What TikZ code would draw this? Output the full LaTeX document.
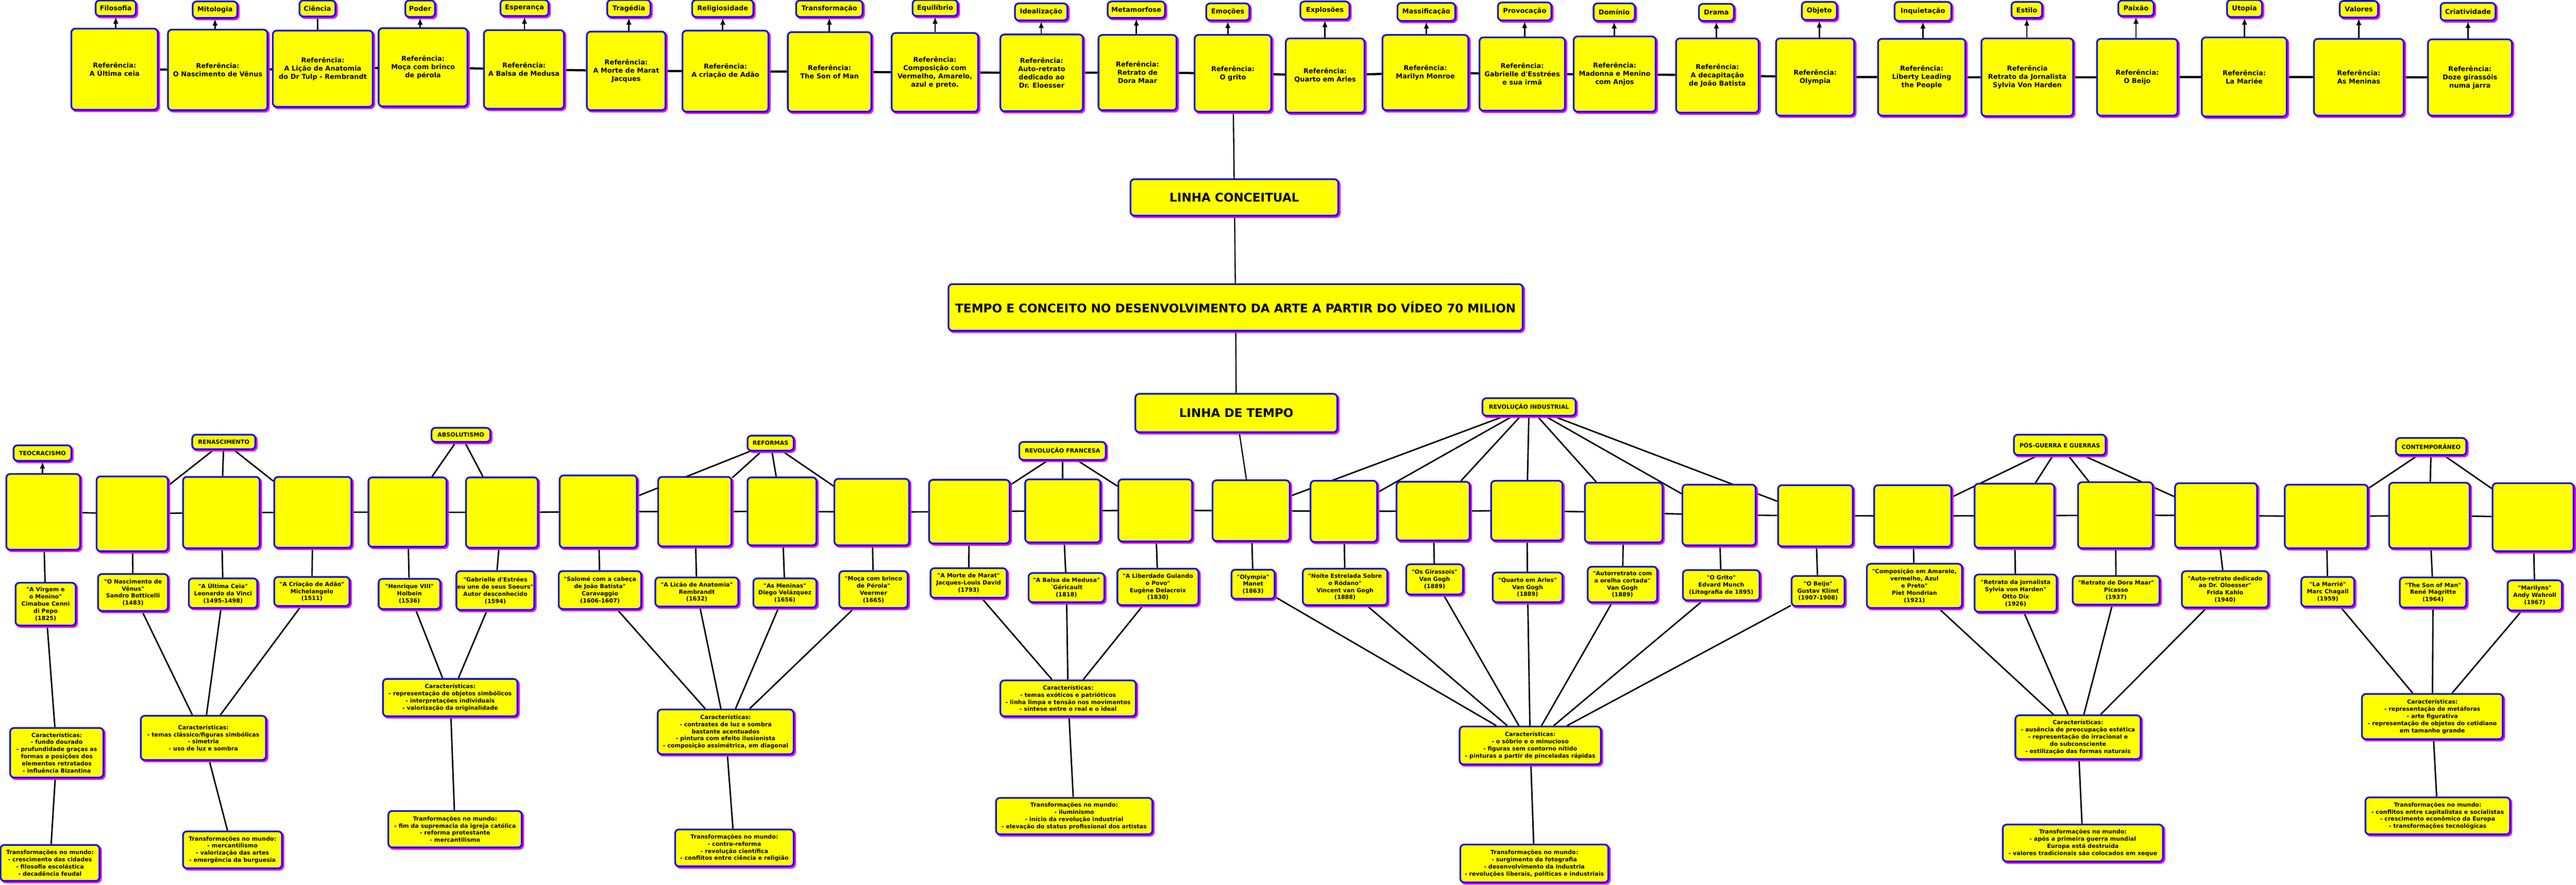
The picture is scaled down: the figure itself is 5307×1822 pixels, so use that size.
\documentclass[tikz,border=0pt]{standalone}
\usepackage{fontspec}
\setmainfont[Ligatures=TeXOff]{DejaVu Sans}
\usetikzlibrary{shadows,arrows.meta}
\definecolor{bxy}{RGB}{255,255,0}
\definecolor{bxb}{RGB}{10,10,245}
\definecolor{bxm}{RGB}{245,0,245}
\pgfdeclarelayer{bg}
\pgfsetlayers{bg,main}
\newcommand\mynode[7]{\node[#1, minimum width=#5pt, minimum height=#6pt] (#2) at (#3,#4) {#7};}
\tikzset{
 bx/.style={draw=bxb, line width=3.5pt, fill=bxy, rounded corners=8pt, align=center, inner sep=2pt, text=black,
   drop shadow={shadow xshift=3pt, shadow yshift=-3pt, fill=bxm, draw=bxm, line width=3.5pt, opacity=1}},
 topf/.style={bx, font=\bfseries\fontsize{13.8}{17}\selectfont},
 botf/.style={bx, font=\bfseries\fontsize{11.8}{14.7}\selectfont},
 bigf/.style={bx, font=\bfseries\fontsize{24.5}{29}\selectfont},
 arr/.style={line width=3pt, -{Latex[length=14pt,width=11pt]}},
 hline/.style={line width=4.5pt},
 cline/.style={line width=3pt},
 tline/.style={line width=2.5pt},
}
\begin{document}
\begin{tikzpicture}[x=1pt,y=-1pt]
\useasboundingbox (0,0) rectangle (5307,1822);
% ---------- top: references ----------
\mynode{topf}{R1}{236}{142.5}{178}{167}{Referência:\\A Última ceia}
\mynode{topf}{R2}{448.5}{144}{205}{166}{Referência:\\O Nascimento de Vênus}
\mynode{topf}{R3}{665}{141.5}{206}{157}{Referência:\\A Lição de Anatomia\\do Dr Tulp - Rembrandt}
\mynode{topf}{R4}{871.5}{138.5}{183}{161}{Referência:\\Moça com brinco\\de pérola}
\mynode{topf}{R5}{1079.5}{143}{165}{162}{Referência:\\A Balsa de Medusa}
\mynode{topf}{R6}{1290}{146}{162}{162}{Referência:\\A Morte de Marat\\Jacques}
\mynode{topf}{R7}{1494.5}{146.5}{177}{167}{Referência:\\A criação de Adão}
\mynode{topf}{R8}{1709}{148}{172}{164}{Referência:\\The Son of Man}
\mynode{topf}{R9}{1926}{149}{178}{162}{Referência:\\Composição com\\Vermelho, Amarelo,\\azul e preto.}
\mynode{topf}{R10}{2146}{150}{170}{158}{Referência:\\Auto-retrato\\dedicado ao\\Dr. Eloesser}
\mynode{topf}{R11}{2343.5}{149.5}{161}{155}{Referência:\\Retrato de\\Dora Maar}
\mynode{topf}{R12}{2540}{151}{158}{158}{Referência:\\O grito}
\mynode{topf}{R13}{2730}{155.5}{162}{153}{Referência:\\Quarto em Arles}
\mynode{topf}{R14}{2936.5}{149.5}{177}{155}{Referência:\\Marilyn Monroe}
\mynode{topf}{R15}{3136}{152.5}{176}{151}{Referência:\\Gabrielle d'Esstrées\\e sua irmã}
\mynode{topf}{R16}{3326.5}{152.5}{169}{155}{Referência:\\Madonna e Menino\\com Anjos}
\mynode{topf}{R17}{3538}{155.5}{170}{153}{Referência:\\A decapitação\\de João Batista}
\mynode{topf}{R18}{3739.5}{158.5}{161}{159}{Referência:\\Olympia}
\mynode{topf}{R19}{3959}{159}{180}{158}{Referência:\\Liberty Leading\\the People}
\mynode{topf}{R20}{4176.5}{159}{189}{160}{Referência\\Retrato da Jornalista\\Sylvia Von Harden}
\mynode{topf}{R21}{4403}{159}{166}{158}{Referência:\\O Beijo}
\mynode{topf}{R22}{4623.5}{158.5}{175}{163}{Referência:\\La Mariée}
\mynode{topf}{R23}{4859.5}{159}{185}{158}{Referência:\\As Meninas}
\mynode{topf}{R24}{5088.5}{159.5}{173}{157}{Referência:\\Doze girassóis\\numa jarra}
% ---------- top: concepts ----------
\mynode{topf}{L1}{238.5}{17}{83}{32}{Filosofia}
\mynode{topf}{L2}{443}{20}{92}{34}{Mitologia}
\mynode{topf}{L3}{654}{17.5}{74}{33}{Ciência}
\mynode{topf}{L4}{865.5}{18}{61}{34}{Poder}
\mynode{topf}{L5}{1080.5}{16.5}{99}{33}{Esperança}
\mynode{topf}{L6}{1295.5}{17.5}{89}{35}{Tragédia}
\mynode{topf}{L7}{1489}{17.5}{126}{35}{Religiosidade}
\mynode{topf}{L8}{1708.5}{18}{137}{34}{Transformação}
\mynode{topf}{L9}{1926.5}{16.5}{93}{33}{Equilíbrio}
\mynode{topf}{L10}{2145}{24.5}{108}{35}{Idealização}
\mynode{topf}{L11}{2341}{20}{118}{34}{Metamorfose}
\mynode{topf}{L12}{2529.5}{24.5}{89}{35}{Emoções}
\mynode{topf}{L13}{2729.5}{21.5}{101}{37}{Explosões}
\mynode{topf}{L14}{2938.5}{24.5}{119}{37}{Massificação}
\mynode{topf}{L15}{3141}{23.5}{110}{37}{Provocação}
\mynode{topf}{L16}{3325.5}{25}{85}{36}{Domínio}
\mynode{topf}{L17}{3536}{25.5}{72}{35}{Drama}
\mynode{topf}{L18}{3748}{22.5}{72}{37}{Objeto}
\mynode{topf}{L19}{3961.5}{23.5}{117}{39}{Inquietação}
\mynode{topf}{L20}{4175.5}{20.5}{63}{33}{Estilo}
\mynode{topf}{L21}{4400.5}{17}{73}{32}{Paixão}
\mynode{topf}{L22}{4624}{17.5}{72}{35}{Utopia}
\mynode{topf}{L23}{4859.5}{19}{79}{34}{Valores}
\mynode{topf}{L24}{5084.5}{24}{113}{36}{Criatividade}
% ---------- centre ----------
\mynode{bigf}{LC}{2543}{406.5}{428}{75}{LINHA CONCEITUAL}
\mynode{bigf}{TIT}{2545.5}{633}{1183}{96}{TEMPO E CONCEITO NO DESENVOLVIMENTO DA ARTE A PARTIR DO VÍDEO 70 MILION}
\mynode{bigf}{LT}{2547}{850.5}{416}{79}{LINHA DE TEMPO}
% ---------- periods ----------
\mynode{botf}{TEO}{87.5}{933}{119}{32}{TEOCRACISMO}
\mynode{botf}{REN}{461}{910}{130}{30}{RENASCIMENTO}
\mynode{botf}{ABS}{949.5}{895.5}{121}{29}{ABSOLUTISMO}
\mynode{botf}{REF}{1587.5}{912.5}{95}{31}{REFORMAS}
\mynode{botf}{RFR}{2189}{928.5}{178}{37}{REVOLUÇÃO FRANCESA}
\mynode{botf}{RIN}{3150}{838}{192}{36}{REVOLUÇÃO INDUSTRIAL}
\mynode{botf}{POS}{4243.5}{916}{189}{42}{PÓS-GUERRA E GUERRAS}
\mynode{botf}{CON}{5008.5}{919.5}{145}{35}{CONTEMPORÂNEO}
% ---------- timeline boxes ----------
\mynode{botf}{T1}{89}{1054}{152}{156}{}
\mynode{botf}{T2}{272.5}{1058}{147}{154}{}
\mynode{botf}{T3}{456}{1055.5}{158}{147}{}
\mynode{botf}{T4}{644.5}{1055}{159}{146}{}
\mynode{botf}{T5}{839.5}{1054.5}{161}{143}{}
\mynode{botf}{T6}{1034}{1055.5}{148}{145}{}
\mynode{botf}{T7}{1232.5}{1053.5}{159}{149}{}
\mynode{botf}{T8}{1431.5}{1053.5}{151}{143}{}
\mynode{botf}{T9}{1611}{1053}{142}{140}{}
\mynode{botf}{T10}{1796}{1054.5}{154}{137}{}
\mynode{botf}{T11}{1997}{1053.5}{166}{131}{}
\mynode{botf}{T12}{2189.5}{1052}{155}{130}{}
\mynode{botf}{T13}{2380}{1051}{152}{128}{}
\mynode{botf}{T14}{2577.5}{1051.5}{159}{125}{}
\mynode{botf}{T15}{2768.5}{1053}{137}{126}{}
\mynode{botf}{T16}{2952.5}{1052.5}{151}{121}{}
\mynode{botf}{T17}{3145.5}{1051.5}{147}{123}{}
\mynode{botf}{T18}{3345}{1055.5}{160}{123}{}
\mynode{botf}{T19}{3541.5}{1060.5}{151}{125}{}
\mynode{botf}{T20}{3740}{1062}{154}{126}{}
\mynode{botf}{T21}{3940.5}{1062.5}{159}{127}{}
\mynode{botf}{T22}{4150}{1062}{164}{132}{}
\mynode{botf}{T23}{4358}{1061}{154}{136}{}
\mynode{botf}{T24}{4565.5}{1061.5}{169}{133}{}
\mynode{botf}{T25}{4792.5}{1063.5}{171}{131}{}
\mynode{botf}{T26}{5005}{1061.5}{166}{135}{}
\mynode{botf}{T27}{5218.5}{1065}{167}{140}{}
% ---------- captions ----------
\mynode{botf}{C1}{94}{1244}{124}{88}{"A Virgem e\\o Menino"\\Cimabue Cenni\\di Pepo\\(1825)}
\mynode{botf}{C2}{274}{1220}{144}{76}{"O Nascimento de\\Vênus"\\Sandro Botticelli\\(1483)}
\mynode{botf}{C3}{459.5}{1221.5}{141}{61}{"A Última Ceia"\\Leonardo da Vinci\\(1495-1498)}
\mynode{botf}{C4}{642.5}{1218}{155}{60}{"A Criação de Adão"\\Michelangelo\\(1511)}
\mynode{botf}{C5}{843.5}{1223}{127}{62}{"Henrique VIII"\\Holbein\\(1536)}
\mynode{botf}{C6}{1020.5}{1216}{159}{80}{"Gabrielle d'Estrées\\eu une de seus Soeurs"\\Autor desconhecido\\(1594)}
\mynode{botf}{C7}{1236}{1215}{170}{78}{"Salomé com a cabeça\\de João Batista"\\Caravaggio\\(1606-1607)}
\mynode{botf}{C8}{1435.5}{1219}{171}{60}{"A Licão de Anatomia"\\Rembrandt\\(1632)}
\mynode{botf}{C9}{1617}{1221}{130}{60}{"As Meninas"\\Diego Velázquez\\(1656)}
\mynode{botf}{C10}{1799.5}{1214}{141}{76}{"Moça com brinco\\de Pérola"\\Veermer\\(1665)}
\mynode{botf}{C11}{1995.5}{1200.5}{157}{61}{"A Morte de Marat"\\Jacques-Louis David\\(1793)}
\mynode{botf}{C12}{2197}{1210}{156}{60}{"A Balsa de Medusa"\\´Géricault\\(1818)}
\mynode{botf}{C13}{2385.5}{1208.5}{167}{75}{"A Liberdade Guiando\\o Povo"\\Eugène Delacroix\\(1830)}
\mynode{botf}{C14}{2581.5}{1203}{89}{60}{"Olympia"\\Manet\\(1863)}
\mynode{botf}{C15}{2771}{1208.5}{174}{75}{"Noite Estrelada Sobre\\o Ródano"\\Vincent van Gogh\\(1888)}
\mynode{botf}{C16}{2955.5}{1193}{117}{62}{"Os Girassois"\\Van Gogh\\(1889)}
\mynode{botf}{C17}{3147}{1209.5}{144}{61}{"Quarto em Arles"\\Van Gogh\\(1889)}
\mynode{botf}{C18}{3342.5}{1203.5}{143}{73}{"Autorretrato com\\a orelha cortada"\\Van Gogh\\(1889)}
\mynode{botf}{C19}{3546}{1205}{158}{62}{"O Grito"\\Edvard Munch\\(Litografia de 1895)}
\mynode{botf}{C20}{3745.5}{1217}{109}{62}{"O Beijo"\\Gustav Klimt\\(1907-1908)}
\mynode{botf}{C21}{3944}{1206.5}{196}{91}{"Composição em Amarelo,\\vermelho, Azul\\e Preto"\\Piet Mondrian\\(1921)}
\mynode{botf}{C22}{4152.5}{1221.5}{169}{77}{"Retrato da jornalista\\Sylvia von Harden"\\Otto Dix\\(1926)}
\mynode{botf}{C23}{4359.5}{1215.5}{179}{59}{"Retrato de Dora Maar"\\Picasso\\(1937)}
\mynode{botf}{C24}{4584}{1213.5}{178}{75}{"Auto-retrato dedicado\\ao Dr. Oloesser"\\Frida Kahlo\\(1940)}
\mynode{botf}{C25}{4795.5}{1218.5}{109}{61}{"La Marrié"\\Marc Chagall\\(1959)}
\mynode{botf}{C26}{5012.5}{1220}{137}{62}{"The Son of Man"\\René Magritte\\(1964)}
\mynode{botf}{C27}{5222}{1226}{112}{62}{"Marilyns"\\Andy Wahroll\\(1967)}
% ---------- characteristics ----------
\mynode{botf}{K1}{117}{1550}{192}{102}{Características:\\- fundo dourado\\- prufundidade graças as\\formas e posições dos\\elementos retratados\\- influência Bizantina}
\mynode{botf}{K2}{419}{1519.5}{258}{91}{Características:\\- temas clássico/figuras simbólicas\\- simetria\\- uso de luz e sombra}
\mynode{botf}{K3}{927.5}{1436.5}{277}{77}{Características:\\- representação de objetos simbólicos\\- interpretações individuais\\- valorização da originalidade}
\mynode{botf}{K4}{1495}{1507}{280}{92}{Características:\\- contrastes de luz e sombra\\bastante acentuados\\- pintura com efeito ilusionista\\- composição assimétrica, em diagonal}
\mynode{botf}{K5}{2200.5}{1438}{279}{74}{Características:\\- temas exóticos e patrióticos\\- linha limpa e tensão nos movimentos\\- síntese entre o real e o ideal}
\mynode{botf}{K6}{3152.5}{1535}{291}{78}{Características:\\- o sóbrio e o minucioso\\- figuras sem contorno nítido\\- pinturas a partir de pinceladas rápidas}
\mynode{botf}{K7}{4281}{1518}{258}{90}{Características:\\- ausência de preocupação estética\\- representação do irracional e\\do subconsciente\\- estilização das formas naturais}
\mynode{botf}{K8}{5011}{1475.5}{290}{93}{Características:\\- representação de metáforas\\- arte figurativa\\- representação de objetos do cotidiano\\em tamanho grande}
% ---------- transformations ----------
\mynode{botf}{W1}{103}{1777}{204}{74}{Transformações no mundo:\\- crescimento das cidades\\- filosofia escolástica\\- decadência feudal}
\mynode{botf}{W2}{479}{1750}{204}{76}{Transformações no mundo:\\- mercantilismo\\- valorização das artes\\- emergência da burguesia}
\mynode{botf}{W3}{937.5}{1707.5}{275}{75}{Tranformações no mundo:\\- fim da supremacia da igreja católica\\- reforma protestante\\- mercantilismo}
\mynode{botf}{W4}{1513}{1746}{244}{76}{Transformações no mundo:\\- contra-reforma\\- revolução científica\\- conflitos entre ciência e religião}
\mynode{botf}{W5}{2213}{1680.5}{322}{75}{Transformações no mundo:\\- iluminismo\\- início da revolução industrial\\- elevação do status profissional dos artistas}
\mynode{botf}{W6}{3161}{1778}{305}{78}{Transformações no mundo:\\- surgimento da fotografia\\- desenvolvimento da industria\\- revoluções liberais, políticas e industriais}
\mynode{botf}{W7}{4291}{1736}{330}{76}{Transformações no mundo:\\- após a primeira guerra mundial\\Europa está destruída\\- valores tradicionais são colocados em xeque}
\mynode{botf}{W8}{5022}{1680}{298}{76}{Transformações no mundo:\\- conflitos entre capitalistas e socialistas\\- crescimento econômico da Europa\\- transformações tecnológicas}
% ---------- connectors ----------
\begin{pgfonlayer}{bg}
\fill[white] (0,0) rectangle (5307,1822);
\foreach \i in {1,...,23}{\pgfmathtruncatemacro\j{\i+1}\draw[hline] (R\i) -- (R\j);}
\foreach \i in {1,2}{\draw[arr] (L\i.south |- R\i.north) -- (L\i.south);}
\foreach \i in {4,...,24}{\draw[arr] (L\i.south |- R\i.north) -- (L\i.south);}
\draw[cline] (L3.south |- R3.north) -- (L3.south);
\draw[tline] (R12) -- (LC);
\draw[tline] (LC) -- (TIT);
\draw[tline] (TIT) -- (LT);
\draw[tline] (LT) -- (T14);
\foreach \i in {1,...,26}{\pgfmathtruncatemacro\j{\i+1}\draw[cline] (T\i) -- (T\j);}
\foreach \i in {1,...,27}{\draw[cline] (T\i) -- (C\i);}
\draw[arr] (TEO.south |- T1.north) -- (TEO.south);
\foreach \t in {2,3,4}{\draw[cline] (REN) -- (T\t);}
\foreach \t in {5,6}{\draw[cline] (ABS) -- (T\t);}
\foreach \t in {7,8,9,10}{\draw[cline] (REF) -- (T\t);}
\foreach \t in {11,12,13}{\draw[cline] (RFR) -- (T\t);}
\foreach \t in {14,...,20}{\draw[cline] (RIN) -- (T\t);}
\foreach \t in {21,22,23,24}{\draw[cline] (POS) -- (T\t);}
\foreach \t in {25,26,27}{\draw[cline] (CON) -- (T\t);}
\draw[cline] (C1) -- (K1);
\foreach \c in {2,3,4}{\draw[cline] (C\c) -- (K2);}
\foreach \c in {5,6}{\draw[cline] (C\c) -- (K3);}
\foreach \c in {7,8,9,10}{\draw[cline] (C\c) -- (K4);}
\foreach \c in {11,12,13}{\draw[cline] (C\c) -- (K5);}
\foreach \c in {14,...,20}{\draw[cline] (C\c) -- (K6);}
\foreach \c in {21,22,23,24}{\draw[cline] (C\c) -- (K7);}
\foreach \c in {25,26,27}{\draw[cline] (C\c) -- (K8);}
\foreach \k in {1,...,8}{\draw[cline] (K\k) -- (W\k);}
\end{pgfonlayer}
\end{tikzpicture}
\end{document}
